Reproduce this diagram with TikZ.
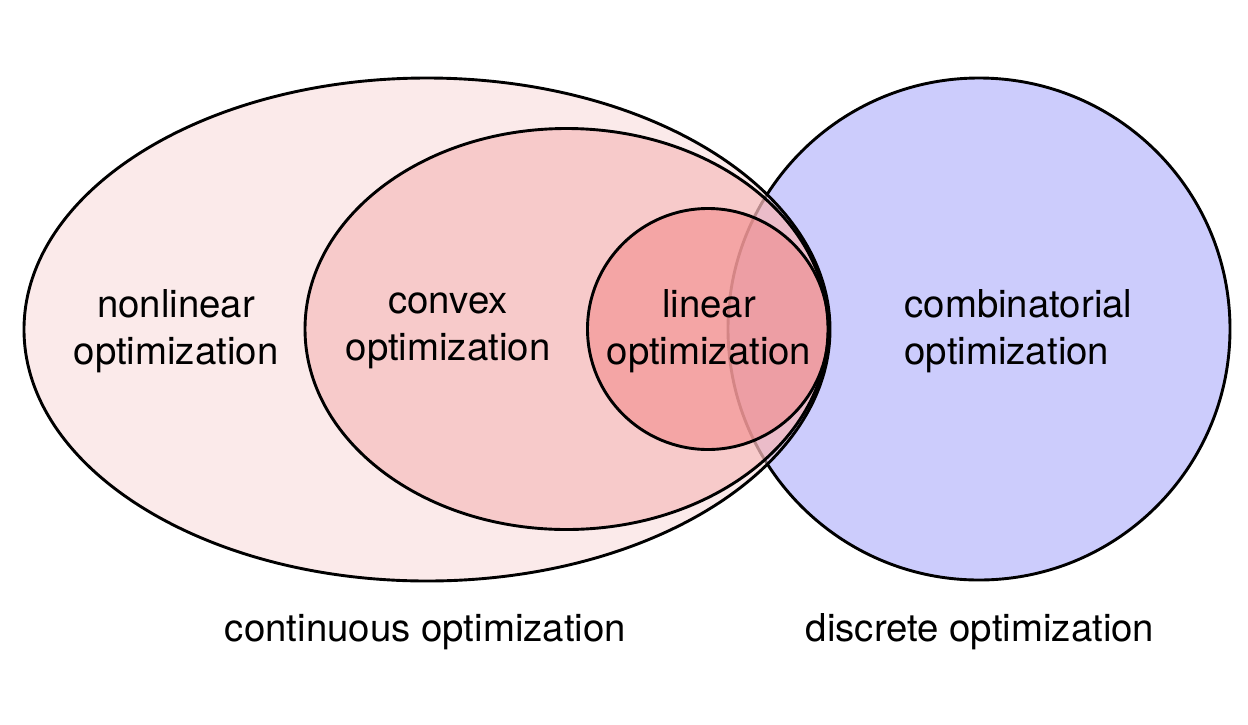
\documentclass[tikz,border=0pt]{standalone}
\usepackage{fontspec}
\setmainfont{TeX Gyre Heros}

\definecolor{nonlinfill}{RGB}{247,213,213}
\definecolor{convfill}{RGB}{245,170,172}
\definecolor{linfill}{RGB}{240,130,129}
\definecolor{combfill}{RGB}{204,204,252}

\begin{document}
\begin{tikzpicture}[
                x = 1pt, y = -1pt, % one unit per pixel
                line width = 2.9pt, % border style
                font = \fontsize{38.4}{47}\selectfont
            ]

            \tikzstyle{every node}=[inner sep = 0pt, align = center]
            \tikzstyle{layer}=[fill opacity = 0.5]

            \useasboundingbox (0,0) rectangle (1248,724);

            % discrete part first, the red sets lie over it
            \fill[combfill] (979,329) circle [radius = 251pt];
            \draw (979,329) circle [radius = 251pt];

            \fill[nonlinfill, layer] (427,329.5) ellipse [x radius = 403pt, y radius = 251.5pt];
            \fill[convfill, layer] (566.5,329) ellipse [x radius = 261.5pt, y radius = 200.5pt];
            \fill[linfill, layer] (708,329) circle [radius = 120.5pt];

            \draw (427,329.5) ellipse [x radius = 403pt, y radius = 251.5pt];
            \draw (566.5,329) ellipse [x radius = 261.5pt, y radius = 200.5pt];
            \draw (708,329) circle [radius = 120.5pt];

            \node (nonlin) at (176,331) {nonlinear\\optimization};
            \node (convex) at (448,331) {convex\\optimization};
            \node (linear) at (709,331) {linear\\optimization};
            \node (comb) [align = left] at (1018.5,331) {combinatorial\\optimization};

            \node (cont) [anchor = base] at (425.5,641) {continuous optimization};
            \node (disc) [anchor = base] at (980,641) {discrete optimization};

        \end{tikzpicture}
\end{document}
